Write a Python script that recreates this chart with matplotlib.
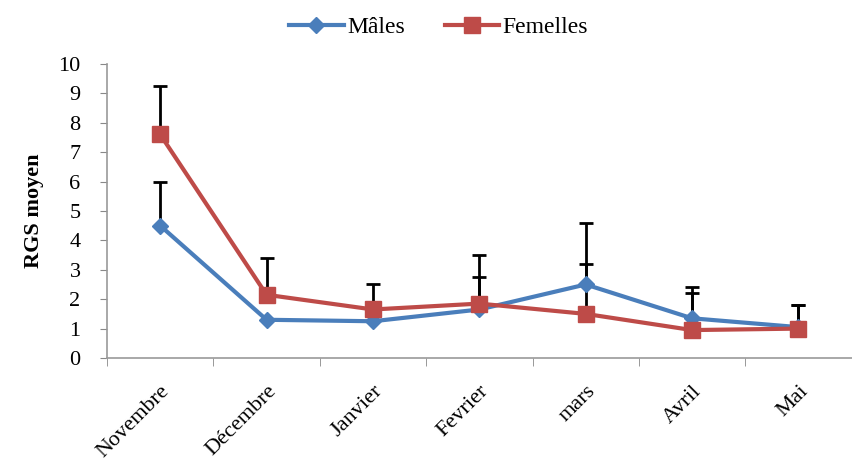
import matplotlib.pyplot as plt
import numpy as np

plt.rcParams['font.family'] = ['Liberation Serif', 'DejaVu Serif']

mois = ['Novembre', 'Décembre', 'Janvier', 'Fevrier', 'mars', 'Avril', 'Mai']
males = [4.5, 1.3, 1.25, 1.65, 2.5, 1.35, 1.05]
males_err = [1.5, 0.0, 0.0, 1.1, 2.1, 1.05, 0.75]
femelles = [7.6, 2.15, 1.65, 1.85, 1.5, 0.95, 1.0]
femelles_err = [1.65, 1.25, 0.85, 1.65, 1.7, 1.25, 0.8]

bleu = '#4A7EBB'
rouge = '#BE4B48'

fig = plt.figure(figsize=(8.52, 4.61), dpi=100)
ax = fig.add_axes([0.1256, 0.2234, 0.874, 0.638])

x = np.arange(len(mois))

# upper error bars only, drawn behind the lines
ax.errorbar(x, males, yerr=[np.zeros(len(x)), males_err], fmt='none',
            ecolor='black', elinewidth=2, capsize=5, capthick=2, zorder=2)
ax.errorbar(x, femelles, yerr=[np.zeros(len(x)), femelles_err], fmt='none',
            ecolor='black', elinewidth=2, capsize=5, capthick=2, zorder=2)

ax.plot(x, males, color=bleu, lw=3, marker='D', ms=8, mfc=bleu, mec=bleu,
        label='Mâles', zorder=3)
ax.plot(x, femelles, color=rouge, lw=3, marker='s', ms=12, mfc=rouge, mec=rouge,
        label='Femelles', zorder=4)

ax.set_xlim(-0.5, len(mois) - 0.5)
ax.set_ylim(0, 10)
ax.set_yticks(range(0, 11))
ax.set_yticklabels([str(i) for i in range(0, 11)], fontsize=16)

# category ticks sit between months
ax.set_xticks(x)
ax.set_xticklabels(mois, rotation=45, ha='right', rotation_mode='anchor', fontsize=16)
ax.tick_params(axis='x', length=0, pad=17)
ax.set_xticks(np.arange(-0.5, len(mois), 1), minor=True)
ax.tick_params(axis='x', which='minor', length=6, color='#888888', direction='out')
ax.tick_params(axis='y', length=5, color='#888888', direction='out', pad=14)

for side in ['top', 'right']:
    ax.spines[side].set_visible(False)
for side in ['left', 'bottom']:
    ax.spines[side].set_color('#999999')
    ax.spines[side].set_linewidth(1.2)

ax.set_ylabel('RGS moyen', fontsize=16, fontweight='bold', labelpad=10)

fig.legend(loc='upper center', bbox_to_anchor=(0.515, 1.01), ncol=2, frameon=False,
           prop={'size': 17}, handlelength=2.3, handletextpad=0.15, columnspacing=1.7)

fig.savefig('out.png', dpi=100)
